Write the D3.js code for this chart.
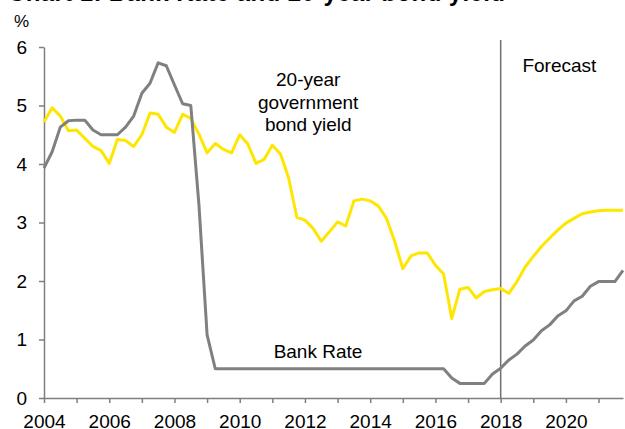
<!DOCTYPE html>
<html>
<head>
<meta charset="utf-8">
<script src="https://cdn.jsdelivr.net/npm/d3@7"></script>
<style>
  html, body { margin: 0; padding: 0; background: #fff; }
  svg { display: block; font-family: "Liberation Sans", Arial, sans-serif; }
</style>
</head>
<body>
<div id="container"></div>
<script>
// quarterly data, 2004 Q1 to 2021 Q4
let years = [2004, 2005, 2006, 2007, 2008, 2009, 2010, 2011, 2012,
  2013, 2014, 2015, 2016, 2017, 2018, 2019, 2020, 2021];
let quarters = [];
years.forEach(y => [0, 0.25, 0.5, 0.75].forEach(q => quarters.push(y + q)));

let bankRate = [
  3.93, 4.21, 4.63, 4.74,
  4.75, 4.75, 4.58, 4.50,
  4.50, 4.50, 4.63, 4.82,
  5.21, 5.38, 5.73, 5.68,
  5.35, 5.03, 5.00, 3.30,
  1.08, 0.50, 0.50, 0.50,
  0.50, 0.50, 0.50, 0.50,
  0.50, 0.50, 0.50, 0.50,
  0.50, 0.50, 0.50, 0.50,
  0.50, 0.50, 0.50, 0.50,
  0.50, 0.50, 0.50, 0.50,
  0.50, 0.50, 0.50, 0.50,
  0.50, 0.50, 0.34, 0.25,
  0.25, 0.25, 0.25, 0.41,
  0.51, 0.65, 0.75, 0.89,
  0.99, 1.15, 1.25, 1.40,
  1.49, 1.66, 1.74, 1.91,
  1.99, 1.99, 1.99, 2.18
];

let bondYield = [
  4.72, 4.96, 4.82, 4.57,
  4.58, 4.44, 4.30, 4.23,
  4.01, 4.42, 4.40, 4.30,
  4.50, 4.87, 4.85, 4.63,
  4.54, 4.85, 4.78, 4.51,
  4.19, 4.35, 4.25, 4.19,
  4.50, 4.34, 4.01, 4.08,
  4.32, 4.17, 3.76, 3.09,
  3.04, 2.90, 2.68, 2.84,
  3.01, 2.94, 3.37, 3.40,
  3.37, 3.28, 3.07, 2.68,
  2.21, 2.43, 2.48, 2.48,
  2.27, 2.12, 1.36, 1.86,
  1.89, 1.71, 1.82, 1.85,
  1.87, 1.79, 1.99, 2.24,
  2.42, 2.59, 2.73, 2.87,
  2.99, 3.07, 3.15, 3.18,
  3.20, 3.21, 3.21, 3.21
];

let yTicks = [0, 1, 2, 3, 4, 5, 6];
let xLabels = [2004, 2006, 2008, 2010, 2012, 2014, 2016, 2018, 2020];
let forecastStart = 2018;

let width = 625;
let height = 429;
let margin = { top: 47, right: 2, bottom: 31, left: 44 };

let svg = d3.create('svg').attr('width', width).attr('height', height);

let x = d3.scaleLinear()
  .domain([2004, 2021.75])
  .range([margin.left, width - margin.right]);
let y = d3.scaleLinear()
  .domain([0, 6])
  .range([height - margin.bottom, margin.top]);

let axisColor = '#7f7f7f';

// title, mostly cut off at the top of the image
svg.append('text')
  .attr('x', 8)
  .attr('y', 1)
  .attr('font-size', '24px')
  .attr('font-weight', 'bold')
  .attr('fill', '#000')
  .attr('textLength', 497)
  .attr('lengthAdjust', 'spacing')
  .text('Chart 1: Bank Rate and 20-year bond yield');

svg.append('text')
  .attr('x', 14)
  .attr('y', 27)
  .attr('font-size', '17px')
  .attr('fill', '#000')
  .text('%');

// y axis
let yAxis = svg.append('g')
  .attr('transform', `translate(${margin.left},0)`)
  .call(d3.axisLeft(y).tickValues(yTicks).tickFormat(d3.format('d'))
    .tickSize(5).tickSizeOuter(0).tickPadding(12));
yAxis.selectAll('text').attr('font-size', '19px').attr('fill', '#000')
  .attr('font-family', '"Liberation Sans", Arial, sans-serif');

// x axis
let xAxis = svg.append('g')
  .attr('transform', `translate(0,${y(0)})`)
  .call(d3.axisBottom(x).tickValues(years).tickSize(5).tickSizeOuter(0).tickPadding(12)
    .tickFormat(d => xLabels.includes(d) ? d : ''));
xAxis.selectAll('text').attr('font-size', '19px').attr('fill', '#000')
  .attr('font-family', '"Liberation Sans", Arial, sans-serif');

svg.selectAll('.domain, .tick line')
  .attr('stroke', axisColor)
  .attr('stroke-width', 1.5);

// forecast divider
svg.append('line')
  .attr('x1', x(forecastStart))
  .attr('x2', x(forecastStart))
  .attr('y1', 40)
  .attr('y2', y(0))
  .attr('stroke', '#6f6f6f')
  .attr('stroke-width', 1.5);

let line = d3.line()
  .x((d, i) => x(quarters[i]))
  .y(d => y(d));

svg.append('path')
  .datum(bondYield)
  .attr('d', line)
  .attr('fill', 'none')
  .attr('stroke', '#ffe600')
  .attr('stroke-width', 3)
  .attr('stroke-linejoin', 'round');

svg.append('path')
  .datum(bankRate)
  .attr('d', line)
  .attr('fill', 'none')
  .attr('stroke', '#808080')
  .attr('stroke-width', 3)
  .attr('stroke-linejoin', 'round');

// annotations
let notes = [
  { lines: ['20-year', 'government', 'bond yield'], x: 2012.1, top: 86 },
  { lines: ['Forecast'], x: 2019.8, top: 72 },
  { lines: ['Bank Rate'], x: 2012.4, top: 358 }
];
notes.forEach(n => {
  svg.append('text')
    .attr('text-anchor', 'middle')
    .attr('font-size', '19px')
    .attr('fill', '#000')
    .selectAll('tspan')
    .data(n.lines)
    .enter()
    .append('tspan')
    .attr('x', x(n.x))
    .attr('y', (d, i) => n.top + i * 22.5)
    .text(d => d);
});

d3.select('#container').append(() => svg.node());
</script>
</body>
</html>
